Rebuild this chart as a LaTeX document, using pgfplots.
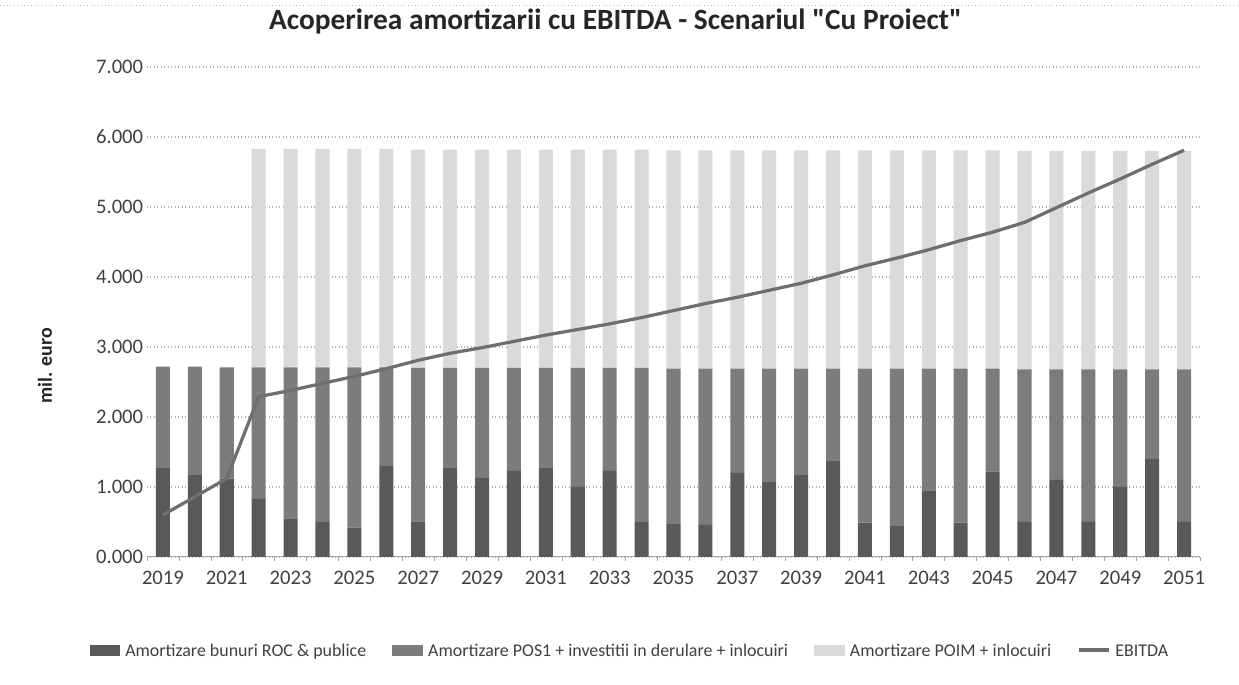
\documentclass[border=0pt]{standalone}
\usepackage{fontspec}
\setmainfont{Carlito}
\newfontfamily\carl{Carlito}
\usepackage{pgfplots}
\pgfplotsset{compat=1.18}
\usepackage{pgfplotstable}
\definecolor{rocc}{HTML}{595959}
\definecolor{posc}{HTML}{7C7C7C}
\definecolor{poimc}{HTML}{DADADA}
\definecolor{ebc}{HTML}{6E6E6E}
\definecolor{txt}{HTML}{404040}
\pgfplotstableread{
year roc pos poim ebitda
2019 1.27 1.45 0 0.60
2020 1.17 1.55 0 0.86
2021 1.12 1.59 0 1.12
2022 0.83 1.88 3.12 2.29
2023 0.55 2.16 3.12 2.38
2024 0.50 2.21 3.12 2.48
2025 0.42 2.29 3.12 2.58
2026 1.30 1.41 3.12 2.69
2027 0.51 2.19 3.12 2.81
2028 1.28 1.42 3.12 2.91
2029 1.13 1.57 3.12 2.99
2030 1.23 1.47 3.12 3.08
2031 1.28 1.42 3.12 3.17
2032 1.00 1.70 3.12 3.25
2033 1.23 1.47 3.12 3.33
2034 0.50 2.20 3.12 3.42
2035 0.47 2.22 3.12 3.52
2036 0.46 2.23 3.12 3.62
2037 1.20 1.49 3.12 3.71
2038 1.07 1.62 3.12 3.81
2039 1.17 1.52 3.12 3.91
2040 1.37 1.32 3.12 4.03
2041 0.49 2.20 3.12 4.16
2042 0.44 2.25 3.12 4.27
2043 0.95 1.74 3.12 4.39
2044 0.49 2.20 3.12 4.52
2045 1.22 1.47 3.12 4.64
2046 0.50 2.18 3.12 4.78
2047 1.10 1.58 3.12 4.99
2048 0.50 2.18 3.12 5.20
2049 1.00 1.68 3.12 5.40
2050 1.40 1.28 3.12 5.61
2051 0.50 2.18 3.12 5.81
}\datatable
\begin{document}
\begin{tikzpicture}
\path[use as bounding box, fill=white] (0,0) rectangle (17.5cm,9.675cm);
\draw[gray!50, densely dotted] (0,9.60cm) -- (17.5cm,9.60cm);
\begin{axis}[
  at={(2.076cm,1.808cm)}, anchor=south west,
  scale only axis, width=14.873cm, height=6.921cm,
  xmin=2018.5, xmax=2051.5, ymin=0, ymax=7,
  ybar stacked, bar width=0.44,
  xtick={2019,2021,...,2051},
  minor xtick={2018.5,2019.5,...,2051.5},
  ytick={0,1,...,7},
  major tick length=0pt, minor tick length=0.05cm,
  tick align=outside,
  axis x line*=bottom, axis y line*=left,
  x axis line style={gray!70},
  y axis line style={draw=none},
  minor tick style={gray!70},
  ymajorgrids, grid style={densely dotted, gray!60, line width=0.5pt},
  xticklabel style={/pgf/number format/1000 sep={}, /pgf/number format/assume math mode=true},
  yticklabel style={/pgf/number format/.cd, fixed, fixed zerofill, precision=3, assume math mode=true},
  tick label style={font=\fontsize{8.3}{10}\selectfont, text=txt},
  xticklabel shift=2pt, yticklabel shift=-2pt,
  title={Acoperirea amortizarii cu EBITDA - Scenariul "Cu Proiect"},
  title style={at={(0.445,1.018)}, anchor=south, font=\carl\bfseries\fontsize{11.8}{13}\selectfont, text=black!85},
  ylabel={mil. euro},
  ylabel style={at={(-0.097,0.39)}, anchor=center, font=\bfseries\fontsize{8}{10}\selectfont, text=black!85},
]
\addplot[fill=rocc, draw=none] table[x=year,y=roc]{\datatable};
\addplot[fill=posc, draw=none] table[x=year,y=pos]{\datatable};
\addplot[fill=poimc, draw=none] table[x=year,y=poim]{\datatable};
\end{axis}
\begin{axis}[
  at={(2.076cm,1.808cm)}, anchor=south west,
  scale only axis, width=14.873cm, height=6.921cm,
  xmin=2018.5, xmax=2051.5, ymin=0, ymax=7,
  hide axis,
  legend columns=4,
  legend style={at={(0.46,-0.19)}, anchor=center, draw=none, fill=none,
    font=\fontsize{7.2}{9}\selectfont, text=txt,
    /tikz/every even column/.append style={column sep=0.3cm}},
  legend cell align=left,
]
\addlegendimage{legend image code/.code={\fill[rocc] (0cm,-0.07cm) rectangle (0.42cm,0.07cm);}}
\addlegendentry{\strut Amortizare bunuri ROC \& publice}
\addlegendimage{legend image code/.code={\fill[posc] (0cm,-0.07cm) rectangle (0.42cm,0.07cm);}}
\addlegendentry{\strut Amortizare POS1 + investitii in derulare + inlocuiri}
\addlegendimage{legend image code/.code={\fill[poimc] (0cm,-0.07cm) rectangle (0.42cm,0.07cm);}}
\addlegendentry{\strut Amortizare POIM + inlocuiri}
\addplot[ebc, line width=1.3pt, mark=none,
  legend image code/.code={\fill[white] (0cm,-0.07cm) rectangle (0.42cm,0.07cm); \draw[ebc, line width=1.3pt] (0cm,0cm) -- (0.42cm,0cm);}] table[x=year,y=ebitda]{\datatable};
\addlegendentry{\strut EBITDA}
\end{axis}
\end{tikzpicture}
\end{document}
